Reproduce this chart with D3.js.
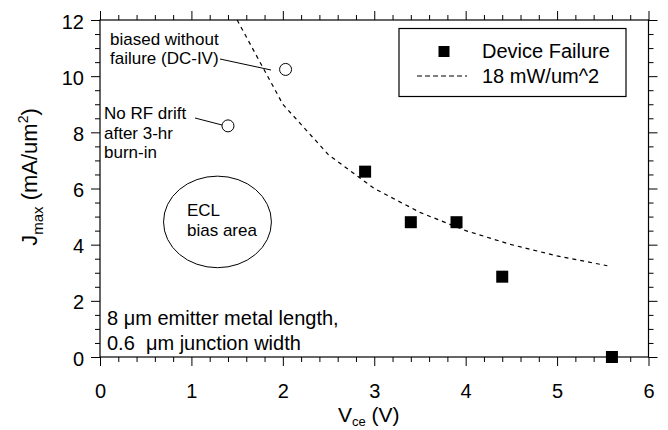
<!DOCTYPE html>
<html>
<head>
<meta charset="utf-8">
<script src="https://cdn.jsdelivr.net/npm/d3@7"></script>
<style>
  html, body { margin: 0; padding: 0; background: #fff; }
  svg { display: block; font-family: "Liberation Sans", Arial, Helvetica, sans-serif; }
  .pre { white-space: pre; }
</style>
</head>
<body>
<div id="chart"></div>
<script>
// Device failure points (Vce in V, Jmax in mA/um^2)
const failureV = [2.9, 3.4, 3.9, 4.4, 5.6];
const failureJ = [6.6, 4.8, 4.8, 2.86, 0];

// 18 mW/um^2 constant power contour
const powerV = [1.5, 2.0, 2.5, 3.0, 3.5, 4.0, 4.5, 5.0, 5.55];
const powerJ = [12.0, 9.0, 7.2, 6.0, 5.15, 4.5, 4.0, 3.6, 3.25];

// Open circles: biased without failure / no RF drift
const okV = [2.03, 1.4];
const okJ = [10.24, 8.23];

const xTicks = [0, 1, 2, 3, 4, 5, 6];
const yTicks = [0, 2, 4, 6, 8, 10, 12];

const width = 668, height = 430;
const x = d3.scaleLinear().domain([0, 6]).range([100, 648.5]);
const y = d3.scaleLinear().domain([0, 12]).range([357, 20]);

const svg = d3.select('#chart').append('svg')
  .attr('width', width)
  .attr('height', height);

const xMinor = d3.range(0, 6.001, 0.2).map(v => +v.toFixed(1)).filter(v => !xTicks.includes(v));
const yMinor = d3.range(0, 12.001, 0.5).filter(v => !yTicks.includes(v));

// Axes: all ticks point outward
function styleAxis(g) {
  g.select('.domain').remove();
  g.selectAll('line').attr('stroke', '#000').attr('stroke-width', 1);
}

svg.append('g').attr('transform', `translate(0,${y(0)})`)
  .call(d3.axisBottom(x).tickValues(xTicks).tickSizeInner(9).tickSizeOuter(0).tickPadding(18).tickFormat(d3.format('d')))
  .call(styleAxis)
  .call(g => g.selectAll('text').attr('font-size', 20).attr('fill', '#000').attr('font-family', null));
svg.append('g').attr('transform', `translate(0,${y(0)})`)
  .call(d3.axisBottom(x).tickValues(xMinor).tickSize(5).tickFormat(''))
  .call(styleAxis);

svg.append('g').attr('transform', `translate(0,${y(12)})`)
  .call(d3.axisTop(x).tickValues(xTicks).tickSize(9).tickFormat(''))
  .call(styleAxis);
svg.append('g').attr('transform', `translate(0,${y(12)})`)
  .call(d3.axisTop(x).tickValues(xMinor).tickSize(5).tickFormat(''))
  .call(styleAxis);

svg.append('g').attr('transform', `translate(${x(0)},0)`)
  .call(d3.axisLeft(y).tickValues(yTicks).tickSizeInner(9).tickSizeOuter(0).tickPadding(7).tickFormat(d3.format('d')))
  .call(styleAxis)
  .call(g => g.selectAll('text').attr('font-size', 20).attr('fill', '#000').attr('font-family', null).attr('dy', '0.4em'));
svg.append('g').attr('transform', `translate(${x(0)},0)`)
  .call(d3.axisLeft(y).tickValues(yMinor).tickSize(5).tickFormat(''))
  .call(styleAxis);

svg.append('g').attr('transform', `translate(${x(6)},0)`)
  .call(d3.axisRight(y).tickValues(yTicks).tickSize(9).tickFormat(''))
  .call(styleAxis);
svg.append('g').attr('transform', `translate(${x(6)},0)`)
  .call(d3.axisRight(y).tickValues(yMinor).tickSize(5).tickFormat(''))
  .call(styleAxis);

// Frame
svg.append('rect')
  .attr('x', x(0)).attr('y', y(12))
  .attr('width', x(6) - x(0)).attr('height', y(0) - y(12))
  .attr('fill', 'none').attr('stroke', '#000').attr('stroke-width', 1.2);

// Axis titles
svg.append('text')
  .attr('x', 338).attr('y', 422)
  .attr('font-size', 21)
  .call(t => {
    t.append('tspan').text('V');
    t.append('tspan').attr('font-size', 13).attr('dy', 4).text('ce');
    t.append('tspan').attr('dy', -4).text(' (V)');
  });

svg.append('text')
  .attr('transform', 'translate(37,177) rotate(-90)')
  .attr('text-anchor', 'middle')
  .attr('font-size', 22)
  .call(t => {
    t.append('tspan').text('J');
    t.append('tspan').attr('font-size', 15).attr('dy', 6).text('max');
    t.append('tspan').attr('dy', -6).text(' (mA/um');
    t.append('tspan').attr('font-size', 14).attr('dy', -9).text('2');
    t.append('tspan').attr('dy', 9).text(')');
  });

// ECL bias area
svg.append('ellipse')
  .attr('cx', x(1.285)).attr('cy', y(4.81))
  .attr('rx', x(0.59) - x(0)).attr('ry', y(0) - y(1.63))
  .attr('fill', 'none').attr('stroke', '#000').attr('stroke-width', 1);
svg.append('text').attr('x', 187).attr('y', 216).attr('font-size', 17).text('ECL');
svg.append('text').attr('x', 187).attr('y', 236).attr('font-size', 17).text('bias area');

// 18 mW/um^2 contour
const powerPts = powerV.map((v, i) => [v, powerJ[i]]);
svg.append('path')
  .datum(powerPts)
  .attr('fill', 'none')
  .attr('stroke', '#000')
  .attr('stroke-width', 1.2)
  .attr('stroke-dasharray', '4,4')
  .attr('d', d3.line().x(d => x(d[0])).y(d => y(d[1])));

// Device failure squares
const sq = 12;
svg.selectAll('.fail')
  .data(failureV.map((v, i) => [v, failureJ[i]]))
  .join('rect')
  .attr('class', 'fail')
  .attr('x', d => x(d[0]) - sq / 2)
  .attr('y', d => y(d[1]) - sq / 2)
  .attr('width', sq).attr('height', sq)
  .attr('fill', '#000');

// Annotation leaders
svg.append('line').attr('x1', 220).attr('y1', 59).attr('x2', 271).attr('y2', 70)
  .attr('stroke', '#000').attr('stroke-width', 1);
svg.append('line').attr('x1', 195).attr('y1', 118).attr('x2', 222).attr('y2', 125)
  .attr('stroke', '#000').attr('stroke-width', 1);

// Open circles
svg.selectAll('.ok')
  .data(okV.map((v, i) => [v, okJ[i]]))
  .join('circle')
  .attr('class', 'ok')
  .attr('cx', d => x(d[0]))
  .attr('cy', d => y(d[1]))
  .attr('r', 6)
  .attr('fill', '#fff')
  .attr('stroke', '#000')
  .attr('stroke-width', 1);

// Annotation texts
const notes = [
  { x: 110, y: 45, t: 'biased without' },
  { x: 110, y: 64, t: 'failure (DC-IV)' },
  { x: 104, y: 119, t: 'No RF drift' },
  { x: 104, y: 139, t: 'after 3-hr' },
  { x: 104, y: 158, t: 'burn-in' },
];
svg.selectAll('.note')
  .data(notes)
  .join('text')
  .attr('class', 'note')
  .attr('x', d => d.x).attr('y', d => d.y)
  .attr('font-size', 17)
  .text(d => d.t);

svg.append('text').attr('class', 'pre').attr('x', 107).attr('y', 325).attr('font-size', 20)
  .text('8 \u03bcm emitter metal length,');
svg.append('text').attr('class', 'pre').attr('x', 107).attr('y', 350).attr('font-size', 20)
  .text('0.6  \u03bcm junction width');

// Legend
const legend = svg.append('g');
legend.append('rect')
  .attr('x', 399).attr('y', 28.5).attr('width', 227).attr('height', 68)
  .attr('fill', '#fff').attr('stroke', '#000').attr('stroke-width', 1.2);
legend.append('rect')
  .attr('x', 438.5).attr('y', 46).attr('width', 11).attr('height', 11).attr('fill', '#000');
legend.append('line')
  .attr('x1', 417).attr('x2', 467).attr('y1', 76).attr('y2', 76)
  .attr('stroke', '#000').attr('stroke-width', 1.2).attr('stroke-dasharray', '5,3');
legend.append('text').attr('x', 482).attr('y', 58).attr('font-size', 20).text('Device Failure');
legend.append('text').attr('x', 482).attr('y', 83).attr('font-size', 20).text('18 mW/um^2');
</script>
</body>
</html>
